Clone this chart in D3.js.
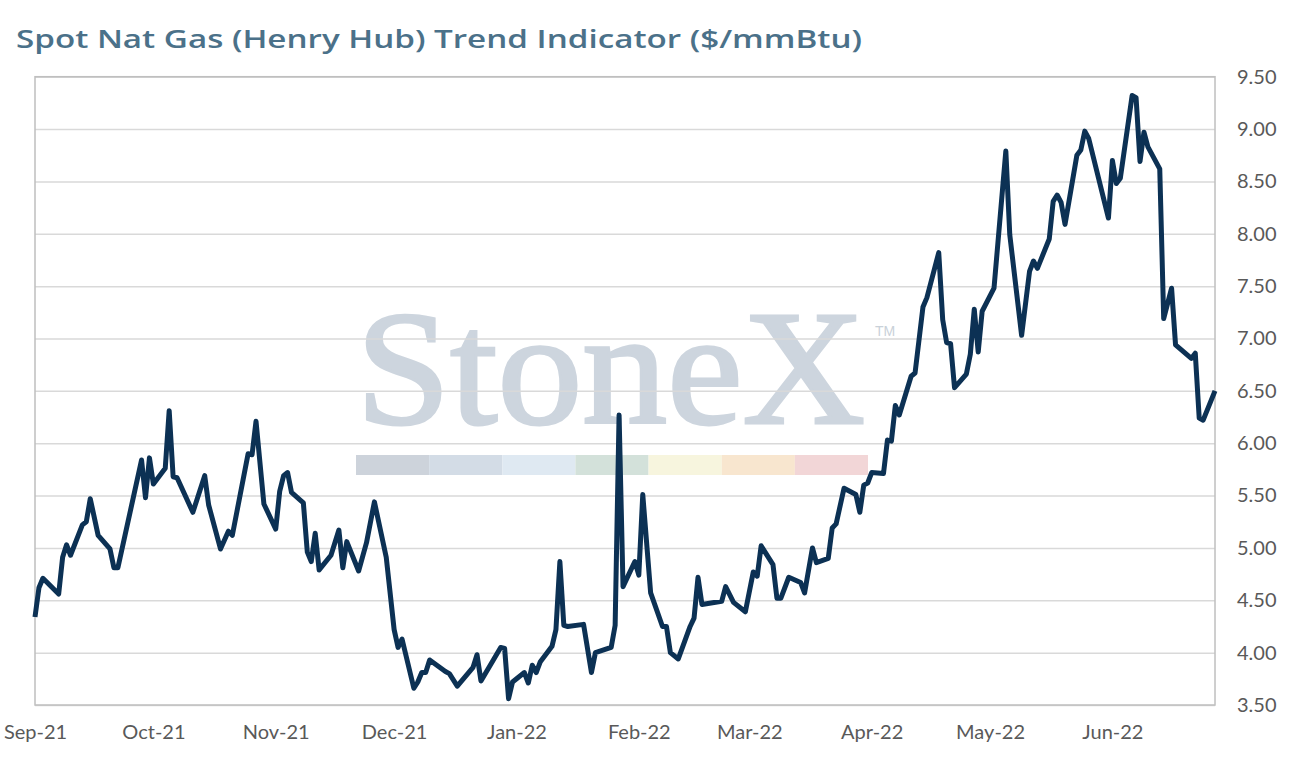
<!DOCTYPE html>
<html>
<head>
<meta charset="utf-8">
<script src="https://cdn.jsdelivr.net/npm/d3@7"></script>
<style>
  body { margin: 0; background: #fff; }
  svg { display: block; }
  .tick text { font-family: "Lato", "Open Sans", sans-serif; fill: #595959; }
</style>
</head>
<body>
<div id="chart"></div>
<script>
// data: trading day and spot price ($/mmBtu)
var dates = [
  "2021-09-01","2021-09-02","2021-09-03","2021-09-07","2021-09-08","2021-09-09","2021-09-10",
  "2021-09-13","2021-09-14","2021-09-15","2021-09-17","2021-09-20","2021-09-21","2021-09-22",
  "2021-09-28","2021-09-29","2021-09-30","2021-10-01","2021-10-04","2021-10-05","2021-10-06",
  "2021-10-07","2021-10-11","2021-10-14","2021-10-15","2021-10-18","2021-10-20","2021-10-21",
  "2021-10-25","2021-10-26","2021-10-27","2021-10-29","2021-11-01","2021-11-02","2021-11-03",
  "2021-11-04","2021-11-05","2021-11-08","2021-11-09","2021-11-10","2021-11-11","2021-11-12",
  "2021-11-15","2021-11-17","2021-11-18","2021-11-19","2021-11-22","2021-11-24","2021-11-26",
  "2021-11-29","2021-12-01","2021-12-02","2021-12-03","2021-12-06","2021-12-07","2021-12-08",
  "2021-12-09","2021-12-10","2021-12-14","2021-12-15","2021-12-17","2021-12-21","2021-12-22",
  "2021-12-23","2021-12-28","2021-12-29","2021-12-30","2021-12-31","2022-01-03","2022-01-04",
  "2022-01-05","2022-01-06","2022-01-07","2022-01-10","2022-01-11","2022-01-12","2022-01-13",
  "2022-01-14","2022-01-18","2022-01-20","2022-01-21","2022-01-25","2022-01-26","2022-01-27",
  "2022-01-28","2022-01-31","2022-02-01","2022-02-02","2022-02-04","2022-02-07","2022-02-08",
  "2022-02-09","2022-02-11","2022-02-14","2022-02-15","2022-02-16","2022-02-17","2022-02-22",
  "2022-02-23","2022-02-25","2022-02-28","2022-03-02","2022-03-03","2022-03-04","2022-03-07",
  "2022-03-08","2022-03-09","2022-03-11","2022-03-14","2022-03-15","2022-03-17","2022-03-18",
  "2022-03-21","2022-03-22","2022-03-23","2022-03-25","2022-03-28","2022-03-29","2022-03-30",
  "2022-03-31","2022-04-01","2022-04-04","2022-04-05","2022-04-06","2022-04-07","2022-04-08",
  "2022-04-11","2022-04-12","2022-04-14","2022-04-15","2022-04-18","2022-04-19","2022-04-20",
  "2022-04-21","2022-04-22","2022-04-25","2022-04-26","2022-04-27","2022-04-28","2022-04-29",
  "2022-05-02","2022-05-05","2022-05-06","2022-05-09","2022-05-11","2022-05-12","2022-05-13",
  "2022-05-16","2022-05-17","2022-05-18","2022-05-19","2022-05-20","2022-05-23","2022-05-24",
  "2022-05-25","2022-05-26","2022-05-31","2022-06-01","2022-06-02","2022-06-03","2022-06-06",
  "2022-06-07","2022-06-08","2022-06-09","2022-06-10","2022-06-13","2022-06-14","2022-06-16",
  "2022-06-17","2022-06-21","2022-06-22","2022-06-23","2022-06-24","2022-06-27"
];
var prices = [
  4.34,4.62,4.71,4.56,4.91,5.03,4.93,
  5.22,5.25,5.47,5.12,4.99,4.81,4.81,
  5.84,5.48,5.86,5.61,5.76,6.31,5.68,
  5.67,5.34,5.69,5.41,4.99,5.16,5.12,
  5.90,5.89,6.21,5.42,5.18,5.54,5.69,
  5.72,5.53,5.43,4.96,4.87,5.14,4.79,
  4.93,5.17,4.81,5.06,4.78,5.05,5.44,
  4.91,4.22,4.05,4.13,3.66,3.72,3.81,
  3.81,3.93,3.82,3.80,3.68,3.86,3.98,
  3.73,4.05,4.04,3.56,3.72,3.81,3.71,
  3.88,3.81,3.91,4.06,4.22,4.87,4.26,
  4.25,4.27,3.81,4.00,4.05,4.26,6.27,
  4.63,4.87,4.74,5.51,4.57,4.25,4.25,
  4.00,3.94,4.25,4.33,4.72,4.46,4.49,
  4.63,4.48,4.39,4.77,4.73,5.02,4.84,
  4.52,4.52,4.72,4.67,4.57,5.00,4.86,
  4.90,5.19,5.23,5.57,5.51,5.34,5.60,
  5.62,5.72,5.71,6.03,6.02,6.36,6.27,
  6.64,6.67,7.30,7.39,7.82,7.18,6.96,
  6.95,6.53,6.66,6.85,7.28,6.87,7.26,
  7.48,8.79,7.99,7.03,7.64,7.74,7.67,
  7.95,8.31,8.37,8.30,8.09,8.75,8.80,
  8.98,8.91,8.15,8.70,8.48,8.53,9.32,
  9.30,8.69,8.97,8.83,8.62,7.19,7.48,
  6.94,6.81,6.86,6.24,6.22,6.50
];
// axis labels
var monthTicks = ["2021-09-01","2021-10-01","2021-11-01","2021-12-01","2022-01-01",
  "2022-02-01","2022-03-01","2022-04-01","2022-05-01","2022-06-01"];
var yTicks = [3.5,4,4.5,5,5.5,6,6.5,7,7.5,8,8.5,9,9.5];
var axisStart = "2021-09-01", axisEnd = "2022-06-27";

// watermark colour strip
var stripColors = ["#cdd3db","#d3dce6","#dfe9f2","#d3e1da","#f7f5de","#f8e6cf","#f2d6d7"];

const width = 1292, height = 766;
const plot = { left: 35, top: 76.7, right: 1215, bottom: 705 };

var parse = d3.timeParse("%Y-%m-%d");
var data = dates.map(function(d, i) { return { date: parse(d), value: prices[i] }; });

var x = d3.scaleTime()
    .domain([parse(axisStart), parse(axisEnd)])
    .range([plot.left, plot.right]);

var y = d3.scaleLinear()
    .domain([3.5, 9.5])
    .range([plot.bottom, plot.top]);

var svg = d3.select("#chart")
  .append("svg")
    .attr("width", width)
    .attr("height", height);

// titel
svg.append("text")
    .attr("x", 16)
    .attr("y", 48)
    .attr("textLength", 846)
    .attr("lengthAdjust", "spacingAndGlyphs")
    .style("font-family", "'Open Sans', sans-serif")
    .style("font-weight", 600)
    .style("font-size", "26px")
    .style("fill", "#4b7189")
    .text("Spot Nat Gas (Henry Hub) Trend Indicator ($/mmBtu)");

// watermark
var wm = svg.append("g").attr("class", "watermark");
wm.append("text")
    .attr("x", 356)
    .attr("y", 423)
    .attr("textLength", 509)
    .attr("lengthAdjust", "spacingAndGlyphs")
    .style("font-family", "'Liberation Serif', 'DejaVu Serif', serif")
    .style("font-size", "163px")
    .style("fill", "#cdd5de")
    .style("stroke", "#cdd5de")
    .style("stroke-width", 3)
    .text("StoneX");
wm.append("text")
    .attr("x", 875)
    .attr("y", 336)
    .style("font-family", "'Liberation Sans', sans-serif")
    .style("font-size", "14px")
    .style("fill", "#c9d1d9")
    .text("TM");

var stripScale = d3.scaleBand()
    .domain(d3.range(stripColors.length))
    .range([356, 868]);
wm.selectAll(".strip")
    .data(stripColors)
    .enter()
    .append("rect")
    .attr("class", "strip")
    .attr("x", function(d, i) { return stripScale(i); })
    .attr("y", 455)
    .attr("width", stripScale.bandwidth())
    .attr("height", 20)
    .style("fill", function(d) { return d; });

// gridlijnen
svg.append("g")
    .attr("class", "grid")
    .attr("transform", "translate(" + plot.left + ",0)")
    .call(d3.axisLeft(y).tickValues(yTicks).tickSize(-(plot.right - plot.left)).tickFormat(""))
    .call(function(g) { g.select(".domain").remove(); })
    .selectAll("line")
    .style("stroke", "#d9d9d9")
    .style("stroke-width", 1.5);

// kader om het plotgebied
svg.append("rect")
    .attr("x", plot.left)
    .attr("y", plot.top)
    .attr("width", plot.right - plot.left)
    .attr("height", plot.bottom - plot.top)
    .style("fill", "none")
    .style("stroke", "#bfbfbf")
    .style("stroke-width", 1.5);

// y-as rechts
svg.append("g")
    .attr("transform", "translate(" + plot.right + ",0)")
    .call(d3.axisRight(y).tickValues(yTicks).tickSize(0).tickPadding(22).tickFormat(d3.format(".2f")))
    .call(function(g) { g.select(".domain").remove(); })
    .selectAll("text")
    .style("font-size", "20px");

// x-as
svg.append("g")
    .attr("transform", "translate(0," + plot.bottom + ")")
    .call(d3.axisBottom(x).tickValues(monthTicks.map(parse)).tickSize(0).tickPadding(20)
      .tickFormat(d3.timeFormat("%b-%y")))
    .call(function(g) { g.select(".domain").remove(); })
    .selectAll("text")
    .style("font-size", "20px");

// de lijn
var line = d3.line()
    .x(function(d) { return x(d.date); })
    .y(function(d) { return y(d.value); });

svg.append("path")
    .datum(data)
    .attr("d", line)
    .style("fill", "none")
    .style("stroke", "#0c3154")
    .style("stroke-width", 5)
    .style("stroke-linejoin", "round");
</script>
</body>
</html>
